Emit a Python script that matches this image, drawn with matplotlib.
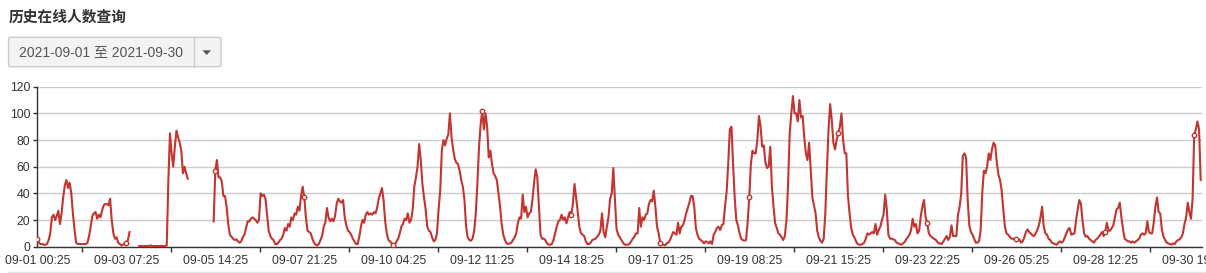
import numpy as np
import matplotlib
matplotlib.use("Agg")
import matplotlib.pyplot as plt
from matplotlib.patches import FancyBboxPatch, Polygon
from matplotlib.lines import Line2D
from datetime import datetime, timedelta

# ---- data: hourly online user counts, hours start at 09-01 00:25 ----
N = None
sep01 = [6, 3, 2, 2, 1.5, 1.5, 2, 5, 10, 22, 24, 20, 23, 27, 17, 25, 37, 46, 50, 44, 48, 40, 25, 13]
sep02 = [3, 2, 2, 2, 2, 2, 2, 3, 8, 15, 23, 25, 26, 21, 24, 22, 27, 31, 32, 32, 31, 36, 20, 10]
sep03 = [6, 7, 3, 2, 1, 1.5, 2, 3, 5, 11, N, N, N, N, N, 0.5, 0.5, 0.5, 0.5, 0.5, 0.5, 0.5, 1, 0.5]
sep04 = [0.5, 0.5, 0.5, 0.5, 0.5, 0.5, 0.5, 0.5, 1, 50, 85, 70, 60, 75, 87, 82, 78, 72, 55, 60, 55, 51, N, N]
sep05 = [N, N, N, N, N, N, N, N, N, N, N, N, N, 19, 57, 65, 52, 52, 49, 38, 38, 30, 17, 9]
sep06 = [7.5, 6, 5, 5.5, 4, 3, 4, 7, 9, 14, 19, 19, 21, 22, 21, 20, 18, 20, 40, 38, 39, 36, 24, 12]
sep07 = [8, 6, 5, 2, 2, 3, 5, 6, 9, 14, 12, 17, 15, 22, 20, 25, 24, 30, 27, 38, 45, 37, 22, 12]
sep08 = [11, 10, 6, 3, 1.5, 1, 2, 5, 8, 15, 18, 29, 22, 19, 21, 19, 23, 32, 36, 34, 33, 35, 22, 16]
sep09 = [12, 11, 9, 6, 4, 2, 2, 7.5, 15, 20, 18, 24, 26, 24, 25, 24, 26, 25, 29, 36, 40, 44, 35, 19]
sep10 = [10, 5, 4, 2.5, 1, 1.5, 4, 6, 10, 15, 17, 21, 20, 25, 18, 20, 28, 45, 52, 60, 77, 65, 47, 37]
sep11 = [28, 15, 12, 11, 7, 4, 5, 10, 28, 42, 72, 80, 76, 81, 84, 100, 82, 73, 66, 63, 62, 57, 50, 45]
sep12 = [35, 15, 7, 5, 4.5, 6, 12, 25, 48, 75, 92, 102, 88, 100, 90, 67, 72, 62, 55, 53, 50, 40, 30, 17]
sep13 = [9, 5, 2.5, 2, 2.5, 3, 5, 7, 10, 18, 22, 21, 39, 26, 30, 22, 25, 26, 35, 48, 58, 52, 30, 9]
sep14 = [6, 6, 5, 2.5, 1.5, 1.5, 2, 5, 10, 15, 19, 20, 24, 20, 22, 17.5, 22, 26, 24, 32, 47, 37, 26, 15]
sep15 = [10, 9, 8, 4, 2, 2, 3, 5, 5.5, 6, 7.5, 9, 12, 25, 11, 7, 15, 22, 36, 40, 59, 35, 13, 9]
sep16 = [7, 5, 3, 1.5, 1.5, 1.5, 2, 4, 6, 7.5, 10, 10, 29, 15, 22, 20, 24, 25, 32, 35, 34, 42, 30, 15]
sep17 = [10, 3, 2, 1.5, 1, 2.5, 3, 5, 8, 11, 10, 9, 18, 10, 15, 16, 20, 25, 29, 33, 38, 38, 30, 14]
sep18 = [9, 6, 5, 4, 2.5, 4, 3.5, 2.5, 4, 2, 9, 11, 14, 15, 12.5, 16, 17, 30, 41, 62, 88, 90, 62, 37]
sep19 = [20, 16, 10, 6, 5, 4.5, 5, 18, 37, 62, 72, 70, 70, 80, 98, 90, 75, 76, 63, 59, 60, 75, 45, 30]
sep20 = [17.5, 14, 10, 9, 7, 5, 8, 20, 47, 85, 100, 113, 100, 100, 94, 110, 97, 98, 82, 70, 65, 78, 58, 37]
sep21 = [31, 25, 12, 7, 4.5, 3, 6, 25, 58, 88, 107, 95, 78, 73, 80, 85, 90, 100, 80, 70, 70, 38, 25, 14]
sep22 = [9, 7, 4, 2, 1.5, 1.5, 2, 3, 6, 10, 9, 10, 11, 10, 17, 9, 12.5, 15, 20, 24, 39, 28, 9, 6]
sep23 = [6, 5.5, 5, 3, 2.5, 2, 1.5, 2.5, 3.5, 5.5, 7, 9, 12.5, 21, 15, 17, 10, 12, 23, 30, 35, 22, 17.5, 10]
sep24 = [8, 7, 6, 5.5, 4, 2.5, 2.5, 2, 4, 6, 8, 5, 7.5, 16, 8, 8, 8, 24, 30, 40, 68, 70, 67, 35]
sep25 = [16, 11, 9, 6, 3, 3, 4, 12, 40, 57, 55, 60, 70, 65, 73, 78, 76, 63, 54, 50, 42, 28, 15, 10]
sep26 = [9, 7.5, 6, 6, 5.5, 6, 5, 5.5, 3, 4, 7, 11, 13, 11, 10, 8.5, 8, 10, 12.5, 16, 22, 30, 15, 10]
sep27 = [9, 6, 5, 3, 2.5, 2, 1.5, 3, 4, 3, 4, 7, 10, 13, 14, 9, 9.5, 10, 20, 28, 35, 32, 19, 10]
sep28 = [7.5, 8, 6, 5, 4, 3, 5, 6, 7.5, 9, 11, 8, 11, 18, 12, 12, 14, 16, 22, 28, 29, 33, 22, 13]
sep29 = [6, 5, 4, 4, 3, 4, 3, 4, 5, 6, 9, 10, 9, 10, 19, 11, 10, 10, 18, 30, 37, 26, 25, 13]
sep30 = [7.5, 5, 3, 2.5, 2, 1.5, 2.5, 2, 4, 5, 5.5, 7, 10, 17, 22, 33, 26, 21, 36, 84, 88, 94, 88, 50]

days = [sep01, sep02, sep03, sep04, sep05, sep06, sep07, sep08, sep09, sep10,
        sep11, sep12, sep13, sep14, sep15, sep16, sep17, sep18, sep19, sep20,
        sep21, sep22, sep23, sep24, sep25, sep26, sep27, sep28, sep29, sep30]

start_time = datetime(2021, 9, 1, 0, 25)
label_interval = 55  # hours between axis labels
y_ticks = [0, 20, 40, 60, 80, 100, 120]
title_text = "历史在线人数查询"
range_text = "2021-09-01 至 2021-09-30"

values = np.array([np.nan if v is None else v for d in days for v in d], dtype=float)
hours = np.arange(len(values))

# ---- figure ----
W, H = 1206, 273
fig = plt.figure(figsize=(W / 100, H / 100), dpi=100)
fig.patch.set_facecolor("white")

def fx(x):
    return x / W

def fy(y):
    return 1 - y / H

left_px, right_px = 37.3, 1201.5
top_px, bottom_px = 86.7, 246.7
ax = fig.add_axes([fx(left_px), fy(bottom_px), fx(right_px - left_px), (bottom_px - top_px) / H])

red = "#c23531"
mark_idx = list(range(0, len(values), label_interval))
ax.plot(hours, values, color=red, lw=1.5, solid_joinstyle="round",
        marker="o", markevery=mark_idx, ms=3.2, mfc="white", mec=red, mew=1, zorder=3)

tick_font = ["Liberation Sans", "DejaVu Sans"]
major = list(range(0, len(values), label_interval))
labels = [(start_time + timedelta(hours=h)).strftime("%m-%d %H:%M") for h in major]
ax.set_xticks(major)
ax.set_xticklabels(labels)
ax.set_xticks([m + label_interval / 2 for m in major if m + label_interval / 2 < len(values)], minor=True)
ax.set_yticks(y_ticks)
ax.set_xlim(0, 719.5)
ax.set_ylim(0, 120)
ax.grid(axis="y", color="#cccccc", lw=1)
ax.set_axisbelow(True)
for s in ["top", "right"]:
    ax.spines[s].set_visible(False)
for s in ["left", "bottom"]:
    ax.spines[s].set_color("#333333")
    ax.spines[s].set_linewidth(1)

ax.tick_params(axis="x", which="major", length=0, pad=6, labelsize=8.8, labelcolor="#333333")
ax.tick_params(axis="x", which="minor", length=3.6, width=1, color="#333333", direction="out")
ax.tick_params(axis="y", length=3, width=1, color="#333333", pad=2, labelsize=8.8, labelcolor="#333333")
for t in ax.get_xticklabels() + ax.get_yticklabels():
    t.set_fontfamily(tick_font)

# ---- header ----
fig.text(fx(8.5), fy(17), title_text, fontsize=10.6, fontweight="bold", color="#333333",
         family=["Noto Sans CJK SC", "DejaVu Sans"], va="center", ha="left")

box = FancyBboxPatch((fx(8.5), fy(66.7)), fx(221 - 8.5), (66.7 - 37.3) / H,
                     boxstyle="round,pad=0,rounding_size=0.003", transform=fig.transFigure,
                     facecolor="#f3f3f3", edgecolor="#cccccc", lw=1)
fig.add_artist(box)
fig.add_artist(Line2D([fx(194.3), fx(194.3)], [fy(37.5), fy(66.5)], color="#cccccc", lw=1,
                      transform=fig.transFigure))
fig.text(fx(19), fy(52.3), range_text, fontsize=10, color="#555555",
         family=["Liberation Sans", "Noto Sans CJK SC"], va="center", ha="left")
tri = Polygon([[fx(202.5), fy(50.3)], [fx(211), fy(50.3)], [fx(206.75), fy(55)]],
              closed=True, transform=fig.transFigure, facecolor="#555555", edgecolor="none")
fig.add_artist(tri)

fig.add_artist(Line2D([fx(8), fx(1206)], [fy(271.5), fy(271.5)], color="#e5e5e5", lw=1,
                      transform=fig.transFigure))

fig.savefig("out.png", dpi=100, facecolor="white")
